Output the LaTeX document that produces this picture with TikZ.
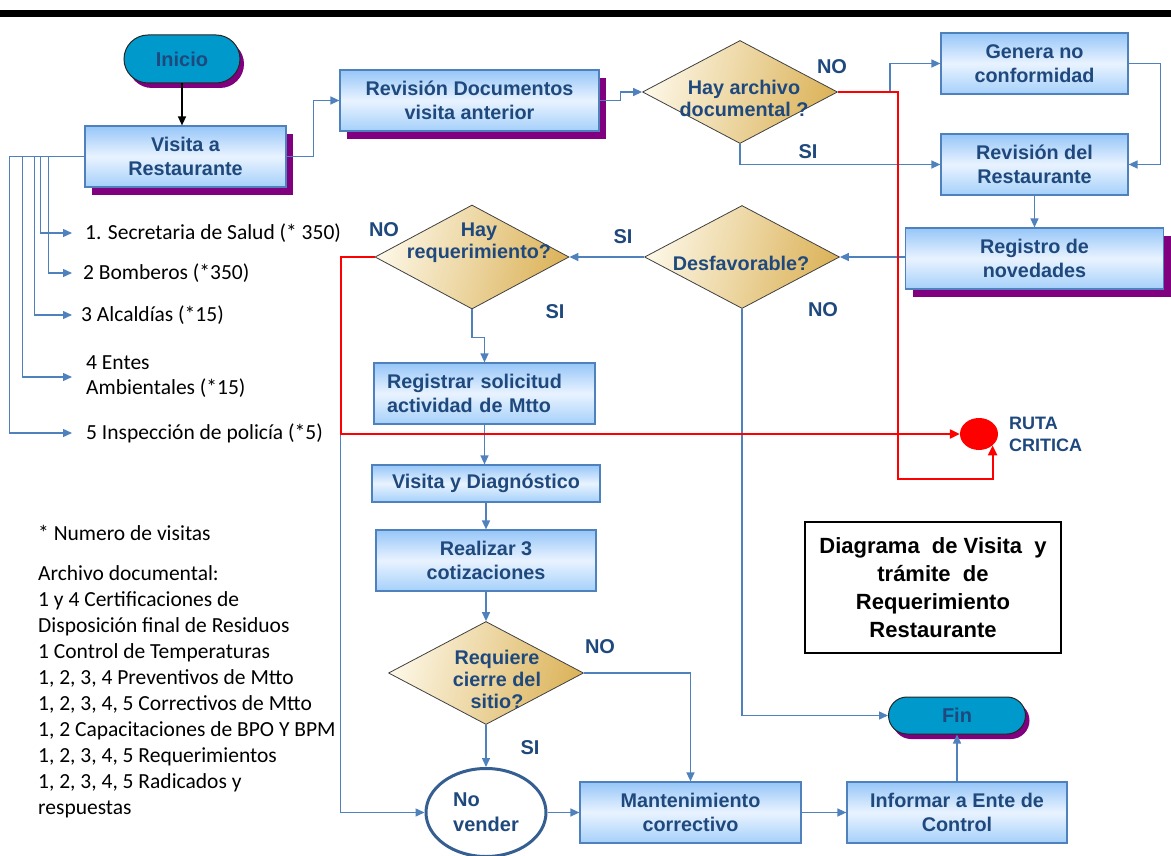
\documentclass[tikz,border=0pt]{standalone}
\usepackage{fontspec}
\setmainfont{Liberation Sans}
\newfontfamily\calfont{Carlito}
\usetikzlibrary{shapes.geometric,shapes.misc,arrows.meta,shadows,calc}

\definecolor{txtblue}{RGB}{31,73,125}
\definecolor{lineblue}{RGB}{79,129,189}
\definecolor{boxtop}{RGB}{150,198,248}
\definecolor{boxmid}{RGB}{233,243,255}
\definecolor{boxbot}{RGB}{165,208,250}
\definecolor{shadowpurple}{RGB}{128,0,128}
\definecolor{termfill}{RGB}{0,153,204}
\definecolor{dcream}{RGB}{252,246,228}
\definecolor{dgold}{RGB}{220,180,92}
\definecolor{ellborder}{RGB}{54,95,145}

\tikzset{
  procbox/.style={rectangle, draw=lineblue, line width=1.2pt,
    top color=boxtop, bottom color=boxbot, middle color=boxmid,
    text=txtblue, font=\bfseries\fontsize{19.8}{24}\selectfont,
    align=center, inner sep=0pt},
  boxshadow/.style={general shadow={fill=shadowpurple, shadow xshift=7pt, shadow yshift=-8pt}},
  term/.style={rounded rectangle, draw=black!85, line width=1pt, fill=termfill,
    text=txtblue, font=\bfseries\fontsize{20}{24}\selectfont, inner sep=0pt,
    general shadow={fill=shadowpurple, shadow xshift=4pt, shadow yshift=-5pt}},
  decision/.style={diamond, draw=black!75, line width=0.8pt,
    left color=dcream, right color=dgold, shading angle=75, inner sep=0pt},
  dtext/.style={text=txtblue, font=\bfseries\fontsize{19.8}{22}\selectfont, align=center, inner sep=0pt},
  lbl/.style={text=txtblue, font=\bfseries\fontsize{20}{24}\selectfont, inner sep=0pt},
  listtxt/.style={anchor=west, inner sep=0pt, align=left, font=\calfont\fontsize{21.5}{26}\selectfont},
  flow/.style={draw=lineblue, line width=1.4pt, -{Triangle[length=9pt,width=8pt]}},
  crit/.style={draw=red, line width=2.2pt, -{Triangle[length=10pt,width=9pt]}},
}

\begin{document}
\begin{tikzpicture}[x=1pt,y=-1pt]
  % page
  \fill[white] (0,0) rectangle (1171,856);
  \useasboundingbox (0,0) rectangle (1171,856);
  \fill[black] (0,10) rectangle (1171,17);

  % main flow
  \node[term, minimum width=116pt, minimum height=48pt] (inicio) at (182,59) {Inicio};
  \node[procbox, boxshadow, minimum width=201pt, minimum height=61pt] (visita) at (185.5,156.5) {Visita a\\Restaurante};
  \node[procbox, boxshadow, minimum width=259pt, minimum height=61pt] (revdoc) at (469.5,100.5) {Revisión Documentos\\visita anterior};
  \node[decision, minimum width=195pt, minimum height=103pt] (d1) at (740,92) {};
  \node[dtext] (d1t) at (744,98) {Hay archivo\\documental ?};
  \node[procbox, minimum width=187pt, minimum height=61pt] (genera) at (1034.5,63.5) {Genera no\\conformidad};
  \node[procbox, minimum width=187pt, minimum height=61pt] (revrest) at (1034.5,164.5) {Revisión del\\Restaurante};
  \node[procbox, boxshadow, minimum width=258pt, minimum height=61pt] (registro) at (1034.5,258.5) {Registro de\\novedades};
  \node[decision, minimum width=195pt, minimum height=103pt] (d2) at (742,257) {};
  \node[dtext] (d2t) at (741,263) {Desfavorable?};
  \node[decision, minimum width=194pt, minimum height=104pt] (d3) at (472,257) {};
  \node[dtext] (d3t) at (479,243) {Hay\\requerimiento?};
  \node[procbox, minimum width=221pt, minimum height=61pt, text width=195pt, align=left] (registrar) at (484.5,393.5) {Registrar solicitud\\actividad de Mtto};
  \node[procbox, minimum width=228pt, minimum height=37pt] (visdiag) at (486,483.5) {Visita y Diagnóstico};
  \node[procbox, minimum width=220pt, minimum height=61pt] (realizar) at (486,560.5) {Realizar 3\\cotizaciones};
  \node[decision, minimum width=195pt, minimum height=103pt] (d4) at (486,673) {};
  \node[dtext] (d4t) at (497,679) {Requiere\\cierre del\\sitio?};
  \node[ellipse, draw=ellborder, line width=3pt, fill=white, text=txtblue,
        font=\bfseries\fontsize{20}{25}\selectfont, align=left, inner sep=0pt,
        minimum width=120pt, minimum height=88pt] (novender) at (486,812.5) {No\\vender};
  \node[procbox, minimum width=221pt, minimum height=61pt] (mant) at (690.5,812.5) {Mantenimiento\\correctivo};
  \node[procbox, minimum width=220pt, minimum height=61pt] (informar) at (957,812.5) {Informar a Ente de\\Control};
  \node[term, minimum width=137pt, minimum height=37pt] (fin) at (957,715.5) {Fin};

  % title box and critical route marker
  \node[draw=black, line width=1.3pt, minimum width=256pt, minimum height=131pt, inner sep=0pt,
        font=\bfseries\fontsize{22}{28}\selectfont, align=center] (title) at (933,587.5)
        {Diagrama\ \ de Visita\ \ y\\trámite\ \ de\\Requerimiento\\Restaurante};
  \node[ellipse, fill=red, minimum width=38pt, minimum height=32pt, inner sep=0pt] (ruta) at (979,434) {};
  \node[anchor=west, text=txtblue, font=\bfseries\fontsize{18}{22}\selectfont, align=left, inner sep=0pt] (rutatxt) at (1009,434) {RUTA\\CRITICA};

  % visited entities
  \node[listtxt] (it1) at (85,233) {1. Secretaria de Salud (* 350)};
  \node[listtxt] (it2) at (83,273) {2 Bomberos (*350)};
  \node[listtxt] (it3) at (81,315) {3 Alcaldías (*15)};
  \node[listtxt, font=\calfont\fontsize{21.5}{25}\selectfont] (it4) at (86,377) {4 Entes\\Ambientales (*15)};
  \node[listtxt] (it5) at (86,433) {5 Inspección de policía (*5)};

  % notes
  \node[listtxt] (note1) at (38,533) {* Numero de visitas};
  \node[listtxt, anchor=north west] (note2) at (38,565) {Archivo documental:\\
    1 y 4 Certificaciones de\\
    Disposición final de Residuos\\
    1 Control de Temperaturas\\
    1, 2, 3, 4 Preventivos de Mtto\\
    1, 2, 3, 4, 5 Correctivos de Mtto\\
    1, 2 Capacitaciones de BPO Y BPM\\
    1, 2, 3, 4, 5 Requerimientos\\
    1, 2, 3, 4, 5 Radicados y\\
    respuestas};

  % branch labels
  \node[lbl] (l1) at (832,67) {NO};
  \node[lbl] (l2) at (808,152) {SI};
  \node[lbl] (l3) at (384,230) {NO};
  \node[lbl] (l4) at (623,237) {SI};
  \node[lbl] (l5) at (555,312) {SI};
  \node[lbl] (l6) at (823,310) {NO};
  \node[lbl] (l7) at (600,647) {NO};
  \node[lbl] (l8) at (530,748) {SI};

  % connectors
  \draw[line width=1.4pt, black, -{Triangle[length=9pt,width=8pt]}] (inicio.south) -- (inicio.south |- visita.north);
  \draw[flow] (visita.east) -- ++(27,0) |- (revdoc.west);
  \draw[flow] (revdoc.east) -- ++(21,0) |- (d1.west);
  \draw[flow] (d1.east) -- ++(52,0) |- (genera.west);
  \draw[flow] (d1.south) |- (revrest.west);
  \draw[flow] (genera.east) -- ++(32,0) |- (revrest.east);
  \draw[flow] (revrest.south) -- (revrest.south |- registro.north);
  \draw[flow] (registro.west |- d2.east) -- (d2.east);
  \draw[flow] (d2.west) -- (d3.east);
  \draw[flow] (d3.south) -- ++(0,28) -| (registrar.north);
  \draw[flow] (registrar.south) -- (registrar.south |- visdiag.north);
  \draw[flow] (visdiag.south) -- (realizar.north);
  \draw[flow] (realizar.south) -- (d4.north);
  \draw[flow] (d4.south) -- (novender.north);
  \draw[flow] (d4.east) -| (mant.north);
  \draw[flow] (novender.east) -- (mant.west);
  \draw[flow] (mant.east) -- (informar.west);
  \draw[flow] (informar.north) -- (fin.south);
  \draw[flow] (d2.south) |- (fin.west);
  \draw[flow] (d3.west) -- ++(-34,0) |- (novender.west);

  \draw[flow] (visita.west) -- ++(-44,0) |- ([xshift=-13pt]it1.west);
  \draw[flow] (visita.west) -- ++(-36,0) |- ([xshift=-11pt]it2.west);
  \draw[flow] (visita.west) -- ++(-50,0) |- ([xshift=-9pt]it3.west);
  \draw[flow] (visita.west) -- ++(-62,0) |- ([xshift=-14pt]it4.west);
  \draw[flow] (visita.west) -- ++(-75,0) |- ([xshift=-14pt]it5.west);

  % critical route
  \coordinate (redturn) at (898,479);
  \draw[crit] (d3.west) -- ++(-34,0) |- (ruta.west);
  \draw[crit] (d1.east) -| (redturn) -| (ruta.-40);
\end{tikzpicture}
\end{document}
